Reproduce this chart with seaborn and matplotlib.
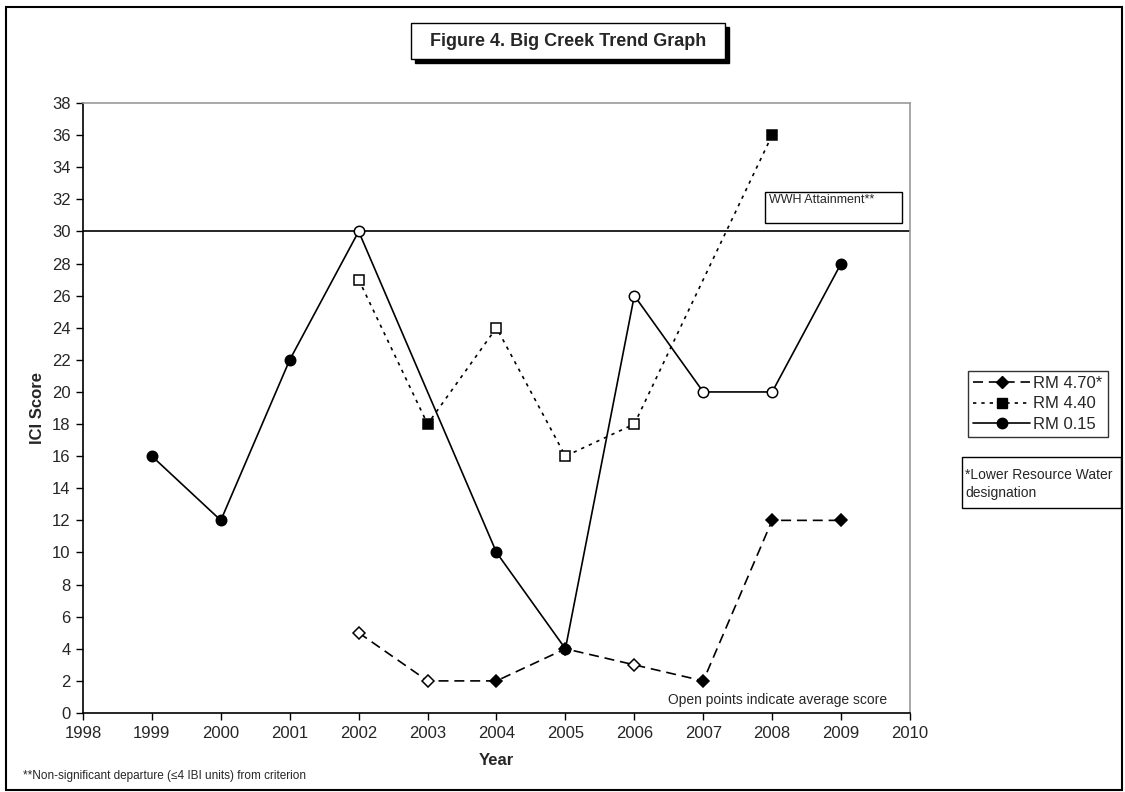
import numpy as np
import pandas as pd
import matplotlib
matplotlib.use("Agg")
import matplotlib.pyplot as plt
from matplotlib.lines import Line2D
from matplotlib.patches import Rectangle
import seaborn as sns

# data
rm470_years = [2002, 2003, 2004, 2005, 2006, 2007, 2008, 2009]
rm470_score = [5, 2, 2, 4, 3, 2, 12, 12]
rm470_filled = [False, False, True, True, False, True, True, True]

rm440_years = [2002, 2003, 2004, 2005, 2006, 2008]
rm440_score = [27, 18, 24, 16, 18, 36]
rm440_filled = [False, True, False, False, False, True]

rm015_years = [1999, 2000, 2001, 2002, 2004, 2005, 2006, 2007, 2008, 2009]
rm015_score = [16, 12, 22, 30, 10, 4, 26, 20, 20, 28]
rm015_filled = [True, True, True, False, True, True, False, False, False, True]

wwh_criterion = 30
x_ticks = list(range(1998, 2011))
y_ticks = list(range(0, 39, 2))

W, H = 1125, 792


def fx(px):
    return px / W


def fy(py):
    return 1 - py / H


def box(fig, x0, y0, x1, y1, lw=1.0, fc="white", z=1):
    # rectangle given in figure pixels (top-left origin)
    r = Rectangle((fx(x0), fy(y1)), fx(x1 - x0), (y1 - y0) / H, transform=fig.transFigure,
                  facecolor=fc, edgecolor="black", linewidth=lw, zorder=z)
    fig.patches.append(r)


def main():
    sns.set_style("white")
    plt.rcParams['font.family'] = ['Liberation Sans', 'DejaVu Sans']

    fig = plt.figure(figsize=(W / 100, H / 100), dpi=100)
    ax = fig.add_axes([fx(83), fy(713), fx(910 - 83), 610 / H])

    series = [
        ("RM 4.70*", rm470_years, rm470_score, rm470_filled, (0, (6, 3.5)), "D", 6),
        ("RM 4.40", rm440_years, rm440_score, rm440_filled, (0, (2, 3)), "s", 6.5),
        ("RM 0.15", rm015_years, rm015_score, rm015_filled, "-", "o", 7.5),
    ]

    handles = []
    for name, yrs, sc, filled, ls, mk, ms in series:
        df = pd.DataFrame({"year": yrs, "score": sc, "filled": filled})
        sns.lineplot(data=df, x="year", y="score", ax=ax, color="black",
                     linestyle=ls, linewidth=1.2, zorder=2)
        for flag in (True, False):
            sub = df[df["filled"] == flag]
            ax.plot(sub["year"], sub["score"], linestyle="none", marker=mk,
                    markersize=ms, markeredgecolor="black", markeredgewidth=1.1,
                    markerfacecolor="black" if flag else "white", zorder=3)
        handles.append(Line2D([], [], color="black", linestyle=ls, linewidth=1.2,
                              marker=mk, markersize=ms, markerfacecolor="black",
                              markeredgecolor="black", label=name))

    ax.axhline(wwh_criterion, color="black", linewidth=1.2, zorder=1)

    ax.set_xlim(1998, 2010)
    ax.set_ylim(0, 38)
    ax.set_xticks(x_ticks)
    ax.set_yticks(y_ticks)
    ax.tick_params(axis="both", direction="out", length=5, width=1, color="black",
                   labelsize=12, bottom=True, left=True, pad=4)
    for side in ("left", "bottom"):
        ax.spines[side].set_color("black")
        ax.spines[side].set_linewidth(1.2)
    for side in ("top", "right"):
        ax.spines[side].set_color("#999999")
        ax.spines[side].set_linewidth(1.2)

    ax.set_xlabel("Year", fontsize=12, fontweight="bold", labelpad=9)
    ax.set_ylabel("ICI Score", fontsize=12, fontweight="bold", labelpad=5)

    # WWH attainment label box
    box(fig, 765, 192, 902, 223)
    fig.text(fx(769), fy(200), "WWH Attainment**", fontsize=9, ha="left", va="center")
    fig.text(fx(887), fy(700), "Open points indicate average score", fontsize=10,
             ha="right", va="center")

    # title box with shadow
    box(fig, 415, 27, 729, 63, fc="black", z=1)
    box(fig, 411, 23, 725, 59, fc="white", z=2)
    fig.text(fx(568), fy(41), "Figure 4. Big Creek Trend Graph", fontsize=13,
             fontweight="bold", ha="center", va="center", zorder=3)

    leg = fig.legend(handles=handles, loc="center", bbox_to_anchor=(fx(1038), fy(404)),
                     frameon=True, fancybox=False, fontsize=12, handlelength=3.4,
                     handletextpad=0.2, borderpad=0.3, labelspacing=0.35)
    leg.get_frame().set_edgecolor("black")
    leg.get_frame().set_linewidth(1)

    box(fig, 962, 457, 1121, 508)
    fig.text(fx(965), fy(475), "*Lower Resource Water", fontsize=10,
             ha="left", va="center")
    fig.text(fx(965), fy(493), "designation", fontsize=10,
             ha="left", va="center")

    fig.text(fx(23), fy(776), "**Non-significant departure (\u22644 IBI units) from criterion",
             fontsize=8.5, ha="left", va="center")

    fig.patches.append(Rectangle((fx(6), fy(790)), fx(1116), 783 / H,
                                 transform=fig.transFigure, fill=False,
                                 edgecolor="black", linewidth=1.5))

    fig.savefig("out.png", dpi=100)
    plt.close(fig)


if __name__ == "__main__":
    main()
